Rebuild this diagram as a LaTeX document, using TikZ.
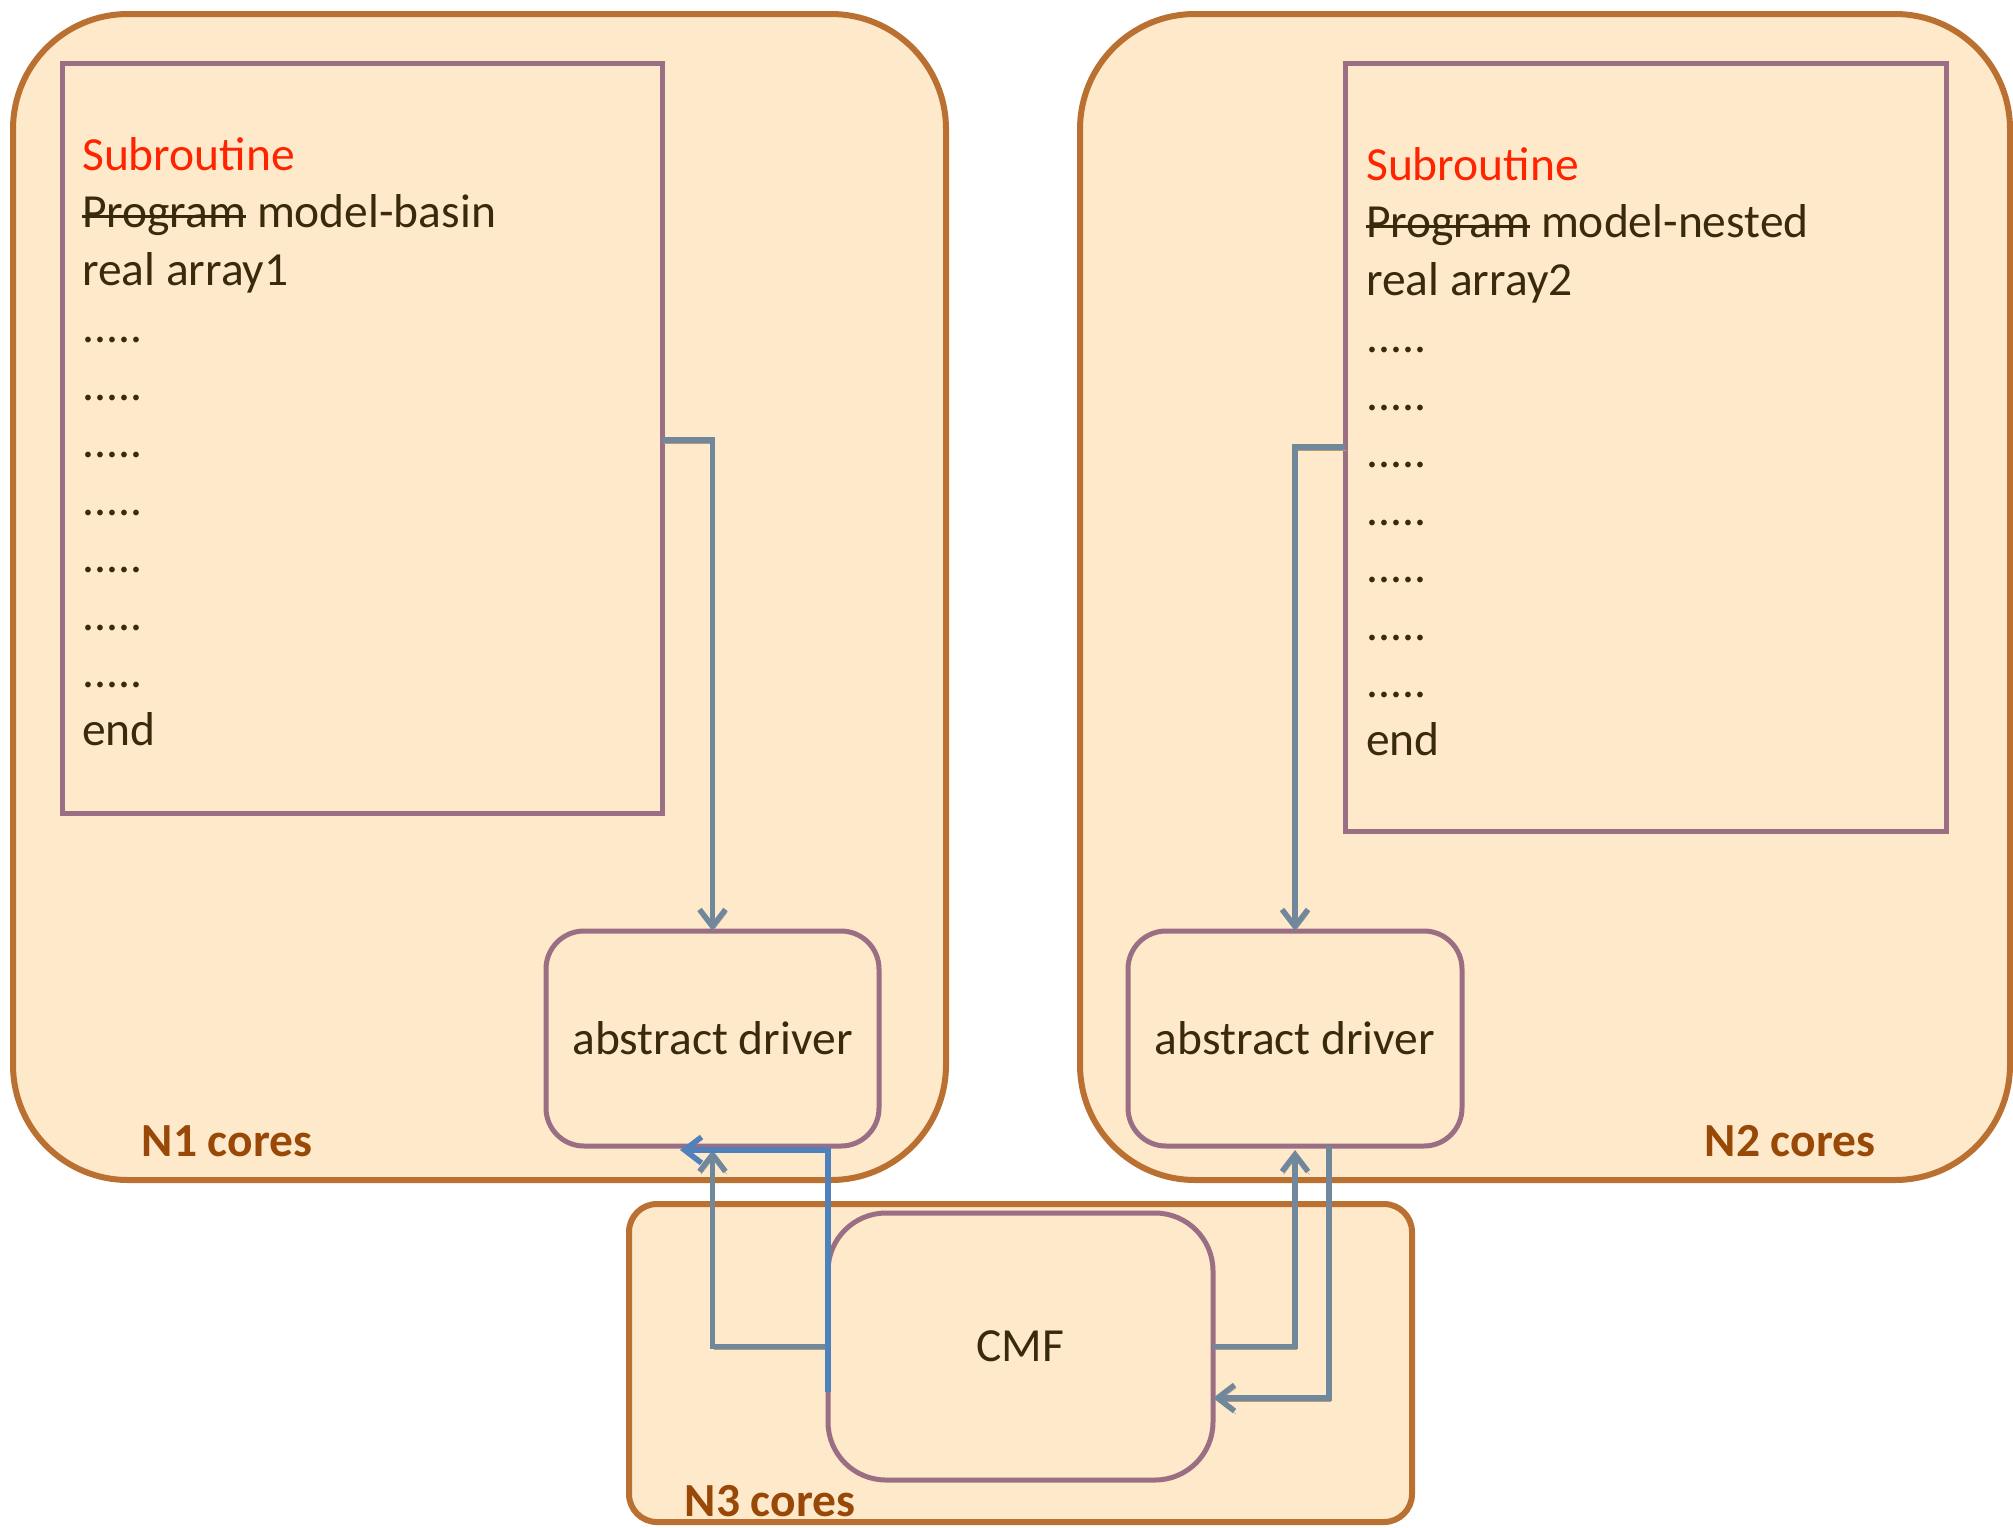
\documentclass[tikz,border=0pt]{standalone}
\usepackage{fontspec}
\setmainfont{Carlito}
\usetikzlibrary{arrows.meta}
\definecolor{fillc}{HTML}{FEE9CB}
\definecolor{orangec}{HTML}{BA7031}
\definecolor{purplec}{HTML}{9A6F84}
\definecolor{connc}{HTML}{71889C}
\definecolor{bluec}{HTML}{4F81BD}
\definecolor{shadowc}{HTML}{B39A78}
\definecolor{textc}{HTML}{3A2A0D}
\definecolor{redc}{HTML}{FF2400}
\definecolor{labelc}{HTML}{984807}
\newcommand\strikeword[1]{\leavevmode\setbox0\hbox{#1}\rlap{\rule[0.21em]{\wd0}{3pt}}\box0}
\tikzset{
  corebox/.style={draw=orangec, line width=6pt, fill=fillc, rectangle, outer sep=0pt, inner sep=0pt, anchor=north west},
  codebox/.style={draw=purplec, line width=5pt, fill=fillc, rectangle, outer sep=0pt, inner sep=0pt, anchor=north west},
  drvbox/.style={draw=purplec, line width=5pt, fill=fillc, rectangle, rounded corners=#1, outer sep=0pt, inner sep=0pt, anchor=north west, text=textc, font=\fontsize{47.5}{57.5}\selectfont},
  codeline/.style={anchor=base west, inner sep=0pt, text=textc, font=\fontsize{47.5}{57.5}\selectfont},
  corelabel/.style={anchor=center, inner sep=0pt, text=labelc, font=\fontsize{47.5}{57.5}\selectfont\bfseries},
  conn/.style={draw=connc, line width=5.5pt, -{Straight Barb[length=17pt,width=26pt,line width=5.5pt]},
    preaction={draw=shadowc, transform canvas={shift={(1.5pt,-3pt)}}}},
  bconn/.style={draw=bluec, line width=5.5pt, -{Straight Barb[length=17pt,width=26pt,line width=5.5pt]}},
}
\begin{document}
\begin{tikzpicture}[x=1pt,y=-1pt]
\useasboundingbox (0,0) rectangle (2013,1527);
\fill[white] (0,0) rectangle (2013,1527);
% core regions
\node[corebox, rounded corners=115pt, minimum width=933pt, minimum height=1166pt] (N1) at (13,14) {};
\node[corebox, rounded corners=115pt, minimum width=930pt, minimum height=1166pt] (N2) at (1080,14) {};
\node[corebox, rounded corners=28pt, minimum width=783pt, minimum height=318pt] (N3) at (629,1204) {};
% code boxes
\node[codebox, minimum width=600pt, minimum height=750pt] (cb1) at (62,63) {};
\node[codebox, minimum width=601pt, minimum height=768pt] (cb2) at (1345,63) {};
% code text left
\node[codeline, text=redc] (l0) at (82,170) {Subroutine};
\node[codeline] (l1) at (82,227.5) {\strikeword{Program}\ model-basin};
\node[codeline] (l2) at (82,285) {real array1};
\foreach \i in {3,...,9} {\node[codeline] (l\i) at (82,170+57.5*\i) {.....};}
\node[codeline] (l10) at (82,745) {end};
% code text right
\node[codeline, text=redc] (r0) at (1366,180) {Subroutine};
\node[codeline] (r1) at (1366,237.5) {\strikeword{Program}\ model-nested};
\node[codeline] (r2) at (1366,295) {real array2};
\foreach \i in {3,...,9} {\node[codeline] (r\i) at (1366,180+57.5*\i) {.....};}
\node[codeline] (r10) at (1366,755) {end};
% drivers and CMF
\node[drvbox=38pt, minimum width=333pt, minimum height=215pt] (D1) at (546,931) {abstract driver};
\node[drvbox=38pt, minimum width=334pt, minimum height=215pt] (D2) at (1128,931) {abstract driver};
\node[drvbox=58pt, minimum width=385pt, minimum height=267pt] (CMF) at (828,1213) {CMF};
% labels
\node[corelabel] (lab1) at (227,1141) {N1 cores};
\node[corelabel] (lab2) at (1790,1141) {N2 cores};
\node[corelabel] (lab3) at (770,1501) {N3 cores};
% connectors
\coordinate (bt) at (680,1150);
\draw[conn] (cb1.north east) ++(0,377) -| (D1.north);
\draw[conn] (cb2.north west) ++(0,384) -| (D2.north);
\draw[conn] (CMF.west) -| ([yshift=-4pt]D1.south);
\draw[conn] (CMF.east) -| ([yshift=-4pt]D2.south);
\draw[conn] (D2.south) ++(34,0) |- ([yshift=-51.5pt]CMF.east);
\draw[bconn] (CMF.north west) ++(0,179) |- (bt);
\end{tikzpicture}
\end{document}
